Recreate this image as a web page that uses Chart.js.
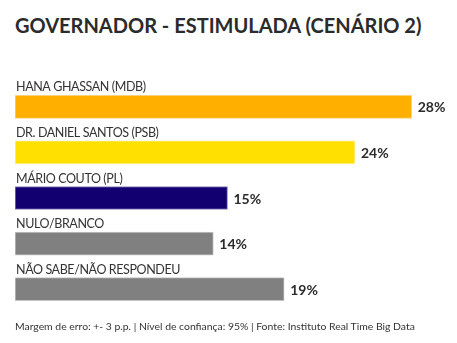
<!DOCTYPE html>
<html lang="pt-BR">
<head>
  <meta charset="UTF-8" />
  <title>Governador - Estimulada (Cenário 2)</title>
  <script src="https://cdn.jsdelivr.net/npm/chart.js"></script>
  <style>
    html, body {
      margin: 0;
      padding: 0;
      background: #fff;
      width: 457px;
      height: 343px;
      overflow: hidden;
      font-family: Lato, "Noto Sans", Arial, sans-serif;
    }
    .title {
      position: absolute;
      left: 15px;
      top: 13px;
      font-size: 20px;
      font-weight: bold;
      color: #2b2b2b;
      white-space: nowrap;
    }
    .note {
      position: absolute;
      left: 15px;
      top: 320px;
      font-size: 10.4px;
      color: #333;
      white-space: nowrap;
    }
    canvas {
      position: absolute;
      left: 0;
      top: 0;
    }
  </style>
</head>
<body>
  <div class="title">GOVERNADOR - ESTIMULADA (CENÁRIO 2)</div>
  <canvas id="chart" width="457" height="343"></canvas>
  <div class="note">Margem de erro: +- 3 p.p. | Nível de confiança: 95% | Fonte: Instituto Real Time Big Data</div>

  <script>
    // data
    const categories = [
      'HANA GHASSAN (MDB)',
      'DR. DANIEL SANTOS (PSB)',
      'MÁRIO COUTO (PL)',
      'NULO/BRANCO',
      'NÃO SABE/NÃO RESPONDEU'
    ];
    const values = [28, 24, 15, 14, 19];
    const barColors = ['#ffaf00', '#ffe000', '#130070', '#808080', '#808080'];
    const borderColors = ['#ffd27a', '#fff08a', '#8a80c0', '#c4c4c4', '#c4c4c4'];

    // labels above bars + value at bar end
    const barLabels = {
      id: 'barLabels',
      afterDatasetsDraw(chart) {
        const ctx = chart.ctx;
        const meta = chart.getDatasetMeta(0);
        ctx.save();
        meta.data.forEach((bar, i) => {
          const top = bar.y - bar.height / 2;
          ctx.font = '12.5px Lato, "Noto Sans", sans-serif';
          ctx.letterSpacing = '-0.4px';
          ctx.fillStyle = '#333';
          ctx.textAlign = 'left';
          ctx.textBaseline = 'alphabetic';
          ctx.fillText(categories[i], chart.chartArea.left + 1, top - 4);

          ctx.letterSpacing = '0px';
          ctx.font = 'bold 14px Lato, "Noto Sans", sans-serif';
          ctx.fillStyle = '#2b2b2b';
          ctx.textBaseline = 'middle';
          ctx.fillText(values[i] + '%', bar.x + 6, bar.y + 1);
        });
        ctx.restore();
      }
    };

    new Chart(document.getElementById('chart'), {
      type: 'bar',
      data: {
        labels: categories,
        datasets: [{
          data: values,
          backgroundColor: barColors,
          borderColor: borderColors,
          borderWidth: 1,
          borderSkipped: false,
          barThickness: 23
        }]
      },
      options: {
        indexAxis: 'y',
        responsive: false,
        animation: false,
        layout: {
          padding: { left: 15, right: 17, top: 84, bottom: 31 }
        },
        scales: {
          x: { display: false, min: 0, max: 30 },
          y: { display: false }
        },
        plugins: {
          legend: { display: false },
          tooltip: { enabled: false }
        }
      },
      plugins: [barLabels]
    });
  </script>
</body>
</html>
